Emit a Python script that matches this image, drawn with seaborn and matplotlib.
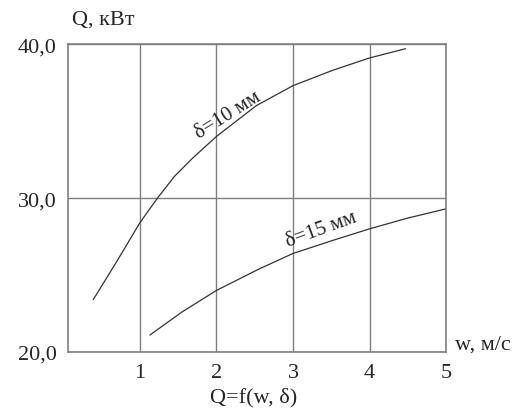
import pandas as pd
import seaborn as sns
import matplotlib.pyplot as plt

#region 1. Data
w_10 = [0.39, 0.7, 1.0, 1.23, 1.45, 1.69, 2.0, 2.52, 3.0, 3.52, 4.0, 4.47]
q_10 = [23.4, 25.9, 28.4, 30.0, 31.4, 32.6, 34.0, 36.0, 37.3, 38.3, 39.1, 39.7]
w_15 = [1.13, 1.55, 2.0, 2.56, 3.0, 3.52, 4.0, 4.5, 5.0]
q_15 = [21.1, 22.6, 24.0, 25.4, 26.4, 27.25, 28.0, 28.7, 29.3]
x_ticks = [1, 2, 3, 4, 5]
y_ticks = [20, 30, 40]
y_tick_labels = ['20,0', '30,0', '40,0']

df = pd.concat([
    pd.DataFrame({'w': w_10, 'Q': q_10, 'delta': '10'}),
    pd.DataFrame({'w': w_15, 'Q': q_15, 'delta': '15'}),
])
#endregion

#region 2. Plot
sns.set_style('white')
plt.rcParams['font.family'] = ['Liberation Serif', 'DejaVu Serif']

fig = plt.figure(figsize=(5.31, 4.10), dpi=100)
ax = fig.add_axes([0.128, 0.139, 0.712, 0.751])

sns.lineplot(data=df, x='w', y='Q', units='delta', estimator=None,
             color='#333333', linewidth=0.9, legend=False, ax=ax)

ax.set_xlim(0.06, 5)
ax.set_ylim(20, 40)
ax.set_xticks(x_ticks)
ax.set_yticks(y_ticks)
ax.set_xticklabels([str(t) for t in x_ticks], fontsize=16)
ax.set_yticklabels(y_tick_labels, fontsize=16)
ax.tick_params(length=0, pad=8)
ax.set_xlabel('')
ax.set_ylabel('')

ax.grid(True, color='#7f7f7f', linewidth=1.0)
for s in ax.spines.values():
    s.set_color('#7f7f7f')
    s.set_linewidth(1.2)

ax.text(2.15, 35.4, 'δ=10 мм', rotation=32, fontsize=15,
        ha='center', va='center', rotation_mode='anchor')
ax.text(3.37, 27.95, 'δ=15 мм', rotation=20, fontsize=15,
        ha='center', va='center', rotation_mode='anchor')

fig.text(0.136, 0.951, 'Q, кВт', fontsize=16, ha='left', va='center')
fig.text(0.857, 0.158, 'w, м/с', fontsize=16, ha='left', va='center')
fig.text(0.477, 0.029, 'Q=f(w, δ)', fontsize=16, ha='center', va='center')

fig.savefig('out.png', dpi=100)
#endregion
